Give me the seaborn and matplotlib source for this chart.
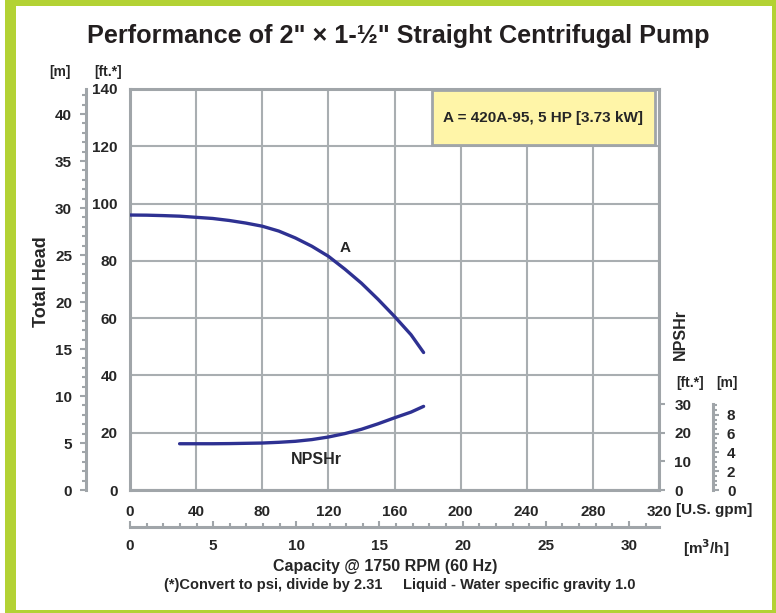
import numpy as np
import pandas as pd
import matplotlib.pyplot as plt
import seaborn as sns
from matplotlib.patches import Rectangle
from matplotlib.ticker import MultipleLocator, FixedLocator

# Curve A (total head) and NPSHr (U.S. gpm, ft)
a_gpm = [0, 10, 20, 30, 40, 50, 60, 70, 80, 90, 100, 110, 120, 130, 140, 150, 160, 170, 177.6]
a_ft = [96.0, 95.95, 95.8, 95.6, 95.2, 94.8, 94.1, 93.2, 92.1, 90.4, 88.0, 85.1, 81.6,
        77.1, 72.2, 66.6, 60.6, 54.2, 48.0]
npsh_gpm = [30, 40, 50, 60, 70, 80, 90, 100, 110, 120, 130, 140, 150, 160, 170, 177.6]
npsh_ft = [16.15, 16.15, 16.15, 16.2, 16.3, 16.4, 16.65, 17.0, 17.6, 18.5, 19.7, 21.2,
           23.1, 25.2, 27.2, 29.2]

gpm_ticks = [0, 40, 80, 120, 160, 200, 240, 280, 320]
ft_ticks = [0, 20, 40, 60, 80, 100, 120, 140]
m_ticks = [0, 5, 10, 15, 20, 25, 30, 35, 40]
npsh_ft_ticks = [0, 10, 20, 30]
npsh_m_ticks = [0, 2, 4, 6, 8]
m3h_ticks = [0, 5, 10, 15, 20, 25, 30]

FT_PER_M = 3.281
GPM_PER_M3H = 10.06  # as the chart draws it

df = pd.concat([
    pd.DataFrame({"gpm": a_gpm, "ft": a_ft, "curve": "A"}),
    pd.DataFrame({"gpm": npsh_gpm, "ft": npsh_ft, "curve": "NPSHr"}),
])

sns.set_style("white")
plt.rcParams["font.family"] = ["Liberation Sans", "DejaVu Sans"]
plt.rcParams["font.weight"] = "bold"

GRID = "#a9aeb1"
SPINE = "#a0a5a9"
BLUE = "#2e3192"
GREEN = "#b3d234"
W, H = 776, 613


def fx(px):
    return px / W


def fy(py):
    return 1 - py / H


def style_spines(a):
    for s in a.spines.values():
        s.set_color(SPINE)
        s.set_linewidth(2.2)


fig = plt.figure(figsize=(7.76, 6.13), dpi=100)
ax = fig.add_axes([fx(130), fy(490), 529 / W, 401 / H])

sns.lineplot(data=df, x="gpm", y="ft", hue="curve",
             palette={"A": BLUE, "NPSHr": BLUE}, linewidth=2.4,
             legend=False, ax=ax, zorder=5)

ax.set_xlim(0, 320)
ax.set_ylim(0, 140)
ax.set_xticks(gpm_ticks)
ax.set_yticks(ft_ticks)
ax.xaxis.set_minor_locator(MultipleLocator(20))
ax.yaxis.set_minor_locator(MultipleLocator(10))
ax.set_xlabel("")
ax.set_ylabel("")
ax.grid(True, which="major", color=GRID, lw=1.5)
ax.set_axisbelow(True)
style_spines(ax)
ax.tick_params(which="both", direction="out", color=SPINE, width=1.5,
               labelsize=11, right=False, top=False)
ax.tick_params(which="major", length=4)
ax.tick_params(which="minor", length=3)
ax.tick_params(axis="y", pad=5)
ax.tick_params(axis="x", pad=7)

# meters scale on the left
ax_m = ax.secondary_yaxis(-44 / 529, functions=(lambda f: f / FT_PER_M, lambda m: m * FT_PER_M))
ax_m.set_yticks(m_ticks)
ax_m.yaxis.set_minor_locator(MultipleLocator(1))
ax_m.tick_params(which="both", direction="out", color=SPINE, width=1.5, labelsize=11, pad=6)
ax_m.tick_params(which="major", length=4)
ax_m.tick_params(which="minor", length=3)
style_spines(ax_m)

# NPSHr ft scale on the right
ax_r = ax.secondary_yaxis("right")
ax_r.set_yticks(npsh_ft_ticks)
ax_r.tick_params(direction="out", color=SPINE, width=1.5, length=4, labelsize=11, pad=7)
for s in ax_r.spines.values():
    s.set_visible(False)

# NPSHr m scale
ax_rm = ax.secondary_yaxis(583 / 529, functions=(lambda f: f / FT_PER_M, lambda m: m * FT_PER_M))
ax_rm.set_yticks(npsh_m_ticks)
ax_rm.yaxis.set_minor_locator(FixedLocator(np.arange(0, 9.01, 0.5)))
ax_rm.tick_params(which="both", direction="out", color=SPINE, width=1.5, labelsize=11, pad=6)
ax_rm.tick_params(which="major", length=4)
ax_rm.tick_params(which="minor", length=3)
style_spines(ax_rm)
for s in ax_rm.spines.values():
    s.set_bounds(0, 9.1)

# m3/h scale below
ax_q = ax.secondary_xaxis(-37 / 401, functions=(lambda g: g / GPM_PER_M3H, lambda q: q * GPM_PER_M3H))
ax_q.set_xticks(m3h_ticks)
ax_q.xaxis.set_minor_locator(MultipleLocator(1))
ax_q.tick_params(which="both", direction="in", color=SPINE, width=1.5, labelsize=11, pad=9)
ax_q.tick_params(which="major", length=4)
ax_q.tick_params(which="minor", length=3)
style_spines(ax_q)

# model box
ax.add_patch(Rectangle((0.571, 0.860), 0.421, 0.1375, transform=ax.transAxes,
                       facecolor="#fff5a8", edgecolor=SPINE, lw=2, zorder=6))
ax.text(0.7815, 0.9285, "A = 420A-95, 5 HP [3.73 kW]", transform=ax.transAxes,
        ha="center", va="center", fontsize=11, zorder=7)

# curve labels
ax.text(130, 84.5, "A", ha="center", va="center", fontsize=11)
ax.text(112.5, 10.5, "NPSHr", ha="center", va="center", fontsize=11.5)

fig.text(fx(398), fy(36), 'Performance of 2" \u00d7 1-\u00bd" Straight Centrifugal Pump',
         ha="center", va="center", fontsize=18.2, color="#231f20")
fig.text(fx(42), fy(282), "Total Head", rotation=90, ha="center", va="center", fontsize=13)
fig.text(fx(680), fy(335), "NPSHr", rotation=90, ha="center", va="center", fontsize=11.5)
fig.text(fx(60), fy(72), "[m]", ha="center", va="center", fontsize=10)
fig.text(fx(108), fy(72), "[ft.*]", ha="center", va="center", fontsize=10)
fig.text(fx(690), fy(383), "[ft.*]", ha="center", va="center", fontsize=10)
fig.text(fx(727), fy(383), "[m]", ha="center", va="center", fontsize=10)
fig.text(fx(676), fy(510), "[U.S. gpm]", ha="left", va="center", fontsize=11)
fig.text(fx(683), fy(548), "[m$^3$/h]", ha="left", va="center", fontsize=11)
fig.text(fx(385), fy(566), "Capacity @ 1750 RPM (60 Hz)", ha="center", va="center",
         fontsize=11.5)
fig.text(fx(400), fy(585), "(*)Convert to psi, divide by 2.31     Liquid - Water specific gravity 1.0",
         ha="center", va="center", fontsize=10.5)

# green frame
for (x0, y0, w, h) in [(5, 0, 11, H), (5, 0, W - 5, 6), (W - 4, 0, 4, H), (5, H - 3, W - 5, 3)]:
    fig.add_artist(Rectangle((fx(x0), fy(y0 + h)), w / W, h / H, transform=fig.transFigure,
                             color=GREEN, lw=0))

fig.savefig("out.png", dpi=100)
